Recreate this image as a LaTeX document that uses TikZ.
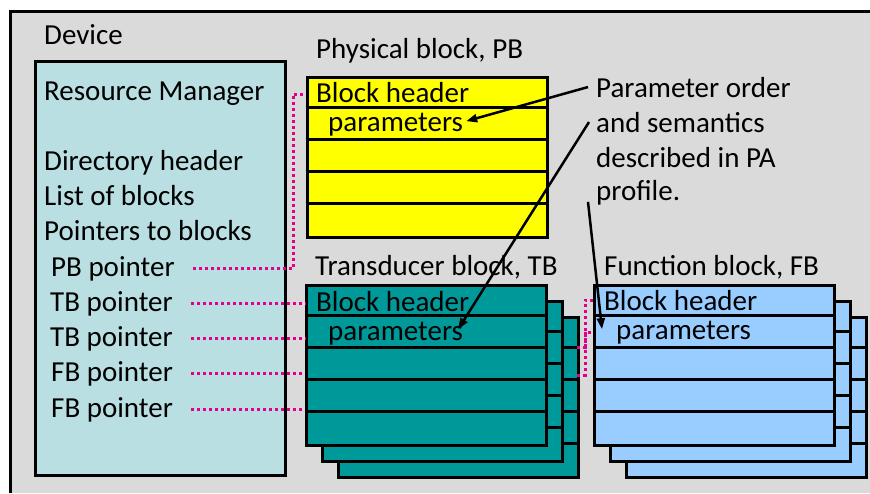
\documentclass[tikz,border=0pt]{standalone}
\usepackage{fontspec}
\setmainfont{Carlito}
\usepackage{xcolor}
\usetikzlibrary{arrows.meta}

\definecolor{devgray}{RGB}{218,218,218}
\definecolor{rmcyan}{RGB}{185,223,226}
\definecolor{pbyellow}{RGB}{255,255,0}
\definecolor{tbteal}{RGB}{0,153,153}
\definecolor{fbblue}{RGB}{153,204,255}
\definecolor{ptrpink}{RGB}{225,0,140}

\begin{document}
\begin{tikzpicture}[x=1pt,y=-1pt]
\tikzstyle{rmbox} = [draw, line width=3pt, fill=rmcyan, anchor=north west, inner sep=0, minimum width=250pt, minimum height=414pt]
\tikzstyle{block} = [draw, line width=3pt, anchor=north west, minimum width=240pt, minimum height=160pt, inner sep=0]
\tikzstyle{txt} = [anchor=base west, inner sep=0, font=\fontsize{29}{34}\selectfont]
\tikzstyle{rowline} = [line width=3pt]
\tikzstyle{pointer} = [ptrpink, line width=3pt, dash pattern=on 3pt off 3pt]
\tikzstyle{note} = [-{Triangle[length=11pt,width=8pt]}, line width=2.5pt]
  \useasboundingbox (0,0) rectangle (870,493);

  % device frame runs off the page to the right and bottom
  \fill[devgray] (10,11.5) rectangle (870,493);
  \draw[line width=3pt] (10,493) -- (10,11.5) -- (870,11.5);
  \node (rm) [rmbox] at (33.5,60) {};

  % blocks, back layers first
  \node (pb) [block, fill=pbyellow] at (305.5,75.5) {};
  \foreach \r in {1,...,4}
    \draw[rowline] (305.5,75.5+32*\r) -- ++(240,0);
  \foreach \d in {32,16,0} {
    \node (tb\d) [block, fill=tbteal] at (305+\d,283.5+\d) {};
    \node (fb\d) [block, fill=fbblue] at (593+\d,283.5+\d) {};
    \foreach \r in {1,...,4} {
      \draw[rowline] (305+\d,283.5+\d+32*\r) -- ++(240,0);
      \draw[rowline] (593+\d,283.5+\d+32*\r) -- ++(240,0);
    }
  }

  \draw
  node (devlbl) [txt] at (44,44) {Device}
  node (rmlbl) [txt] at (44,100) {Resource Manager}
  node (dirhdr) [txt] at (44,170) {Directory header}
  node (blklist) [txt] at (44,205) {List of blocks}
  node (blkptrs) [txt] at (44,240) {Pointers to blocks}
  node (ptrpb) [txt] at (51,276) {PB pointer}
  node (ptrtba) [txt] at (50,311) {TB pointer}
  node (ptrtbb) [txt] at (50,346) {TB pointer}
  node (ptrfba) [txt] at (51,381) {FB pointer}
  node (ptrfbb) [txt] at (51,417) {FB pointer}

  node (pbtitle) [txt] at (316,58) {Physical block, PB}
  node (pbhdr) [txt] at (316,102) {Block header}
  node (pbpar) [txt] at (328,131) {parameters}
  node (tbtitle) [txt] at (315,275) {Transducer block, TB}
  node (tbhdr) [txt] at (316,311) {Block header}
  node (tbpar) [txt] at (328,340) {parameters}
  node (fbtitle) [txt] at (604,275) {Function block, FB}
  node (fbhdr) [txt] at (604,310) {Block header}
  node (fbpar) [txt] at (616,339) {parameters}

  node (notea) [txt] at (596,97) {Parameter order}
  node (noteb) [txt] at (596,132) {and semantics}
  node (notec) [txt] at (596,167) {described in PA}
  node (noted) [txt] at (596,200) {profile.};

  % pointers from the directory
  \coordinate (pbin) at (305,94);
  \coordinate (tbouta) at (577,347);
  \coordinate (tboutb) at (577,375);
  \coordinate (fbina) at (593,300);
  \coordinate (fbinb) at (593,332);
  \draw[pointer] ([xshift=18pt]ptrpb.east) -| ([xshift=-12pt]pbin) -- (pbin);
  \foreach \p in {ptrtba,ptrtbb,ptrfba,ptrfbb}
    \draw[pointer] ([xshift=18pt]\p.east) -- (\p.east -| tb0.west);
  \draw[pointer] (tbouta) -- ++(8,0) |- (fbina);
  \draw[pointer] (tboutb) -- ++(8,0) |- (fbinb);

  \draw[note] ([xshift=-8pt]notea.west) -- ([xshift=3pt,yshift=3pt]pbpar.east);
  \draw[note] ([xshift=-7pt]noteb.west) -- ([xshift=-5pt,yshift=4pt]tbpar.east);
  \draw[note] ([xshift=-8pt,yshift=3pt]noted.south west) -- ([xshift=-14pt,yshift=3pt]fbpar.west);
\end{tikzpicture}
\end{document}
